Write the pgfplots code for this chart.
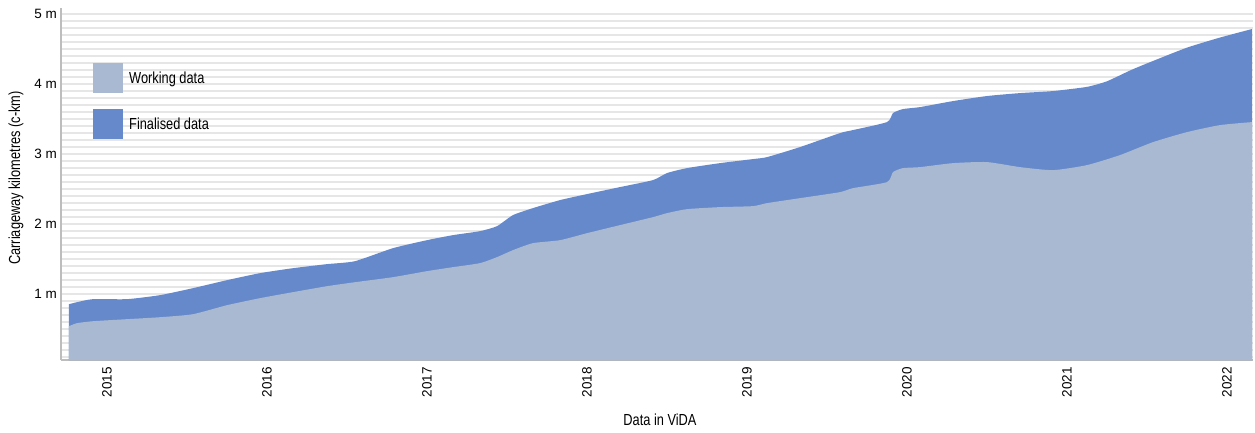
\documentclass[border=0pt]{standalone}
\usepackage{pgfplots}
\pgfplotsset{compat=1.18}
\usepackage{fontspec}
\setmainfont{Liberation Sans}
\newfontfamily\narrowfont{Liberation Sans}[FakeStretch=0.8]
\definecolor{finalised}{HTML}{6689CB}
\definecolor{working}{HTML}{A8B9D1}
\definecolor{gridc}{HTML}{E6E6E6}
\definecolor{axisc}{HTML}{BDBDBD}
\begin{document}
\begin{tikzpicture}
\path[use as bounding box] (-61pt,-72pt) rectangle (1194pt,360pt);
\begin{axis}[
  scale only axis, width=1192pt, height=352pt,
  xmin=2014.7125, xmax=2022.1625, ymin=0.06, ymax=5.086,
  axis lines*=left,
  axis line style={axisc, line width=1.2pt},
  tick style={draw=none},
  major tick length=0pt, minor tick length=0pt,
  xtick={2015,2016,2017,2018,2019,2020,2021,2022},
  xticklabels={2015,2016,2017,2018,2019,2020,2021,2022},
  ytick={1,2,3,4,5},
  yticklabels={1 m,2 m,3 m,4 m,5 m},
  minor ytick={0.1,0.2,...,5.05},
  ymajorgrids, yminorgrids,
  major grid style={gridc, line width=1.5pt},
  minor grid style={gridc, line width=1.5pt},
  xticklabel style={font=\fontsize{13.5}{15}\selectfont, rotate=90, anchor=east, inner sep=0pt},
  xticklabel shift=7pt,
  yticklabel style={font=\fontsize{13.5}{15}\selectfont, anchor=east, inner sep=0pt},
  yticklabel shift=4pt,
  xlabel={Data in ViDA},
  ylabel={Carriageway kilometres (c-km)},
  every axis x label/.style={at={(axis description cs:0.5025,-0.1705)}, anchor=center, font=\narrowfont\fontsize{16}{19}\selectfont},
  every axis y label/.style={at={(axis description cs:-0.0378,0.517)}, rotate=90, anchor=center, font=\narrowfont\fontsize{16}{19}\selectfont},
  legend image code/.code={\fill[#1] (0pt,-15pt) rectangle (30pt,15pt);},
  reverse legend,
  legend cell align=left,
  legend style={draw=none, fill=none, at={(axis description cs:0.02685,0.84375)}, anchor=north west,
    font=\narrowfont\fontsize{16}{19}\selectfont, row sep=16pt, inner sep=0pt,
    /tikz/every odd column/.append style={column sep=4pt}},
]
\addplot[fill=finalised, draw=none, smooth, tension=0.35] table {
2014.7625 0.857
2014.8125 0.886
2014.9125 0.929
2015.125 0.929
2015.33125 0.986
2015.5375 1.086
2015.75 1.2
2015.95625 1.3
2016.1625 1.371
2016.375 1.429
2016.55 1.471
2016.7875 1.657
2017.0 1.771
2017.1625 1.843
2017.33125 1.9
2017.4375 1.971
2017.5375 2.129
2017.6625 2.229
2017.83125 2.343
2018.0 2.429
2018.20625 2.529
2018.4125 2.629
2018.5 2.729
2018.625 2.8
2018.83125 2.871
2019.0375 2.929
2019.125 2.957
2019.33125 3.1
2019.58125 3.3
2019.6625 3.343
2019.875 3.457
2019.9125 3.586
2019.975 3.643
2020.08125 3.671
2020.2875 3.757
2020.5 3.829
2020.70625 3.871
2020.9125 3.9
2021.125 3.96
2021.25 4.04
2021.4 4.2
2021.5375 4.33
2021.75 4.52
2021.95 4.66
2022.15625 4.786
} \closedcycle;
\addlegendentry{Finalised data}
\addplot[fill=working, draw=none, smooth, tension=0.35] table {
2014.7625 0.543
2014.8125 0.586
2014.9125 0.614
2015.125 0.643
2015.33125 0.671
2015.5375 0.714
2015.75 0.843
2015.95625 0.943
2016.1625 1.029
2016.375 1.114
2016.55 1.171
2016.7875 1.243
2017.0 1.329
2017.1625 1.386
2017.33125 1.443
2017.4375 1.529
2017.5375 1.629
2017.6625 1.729
2017.83125 1.771
2018.0 1.871
2018.20625 1.986
2018.4125 2.1
2018.5 2.157
2018.625 2.214
2018.83125 2.243
2019.0375 2.257
2019.125 2.3
2019.33125 2.371
2019.58125 2.457
2019.6625 2.514
2019.875 2.6
2019.9125 2.743
2019.975 2.8
2020.08125 2.814
2020.2875 2.871
2020.5 2.886
2020.70625 2.814
2020.9125 2.771
2021.125 2.843
2021.33125 2.986
2021.5375 3.171
2021.75 3.314
2021.95625 3.414
2022.15625 3.457
} \closedcycle;
\addlegendentry{Working data}
\end{axis}
\end{tikzpicture}
\end{document}
